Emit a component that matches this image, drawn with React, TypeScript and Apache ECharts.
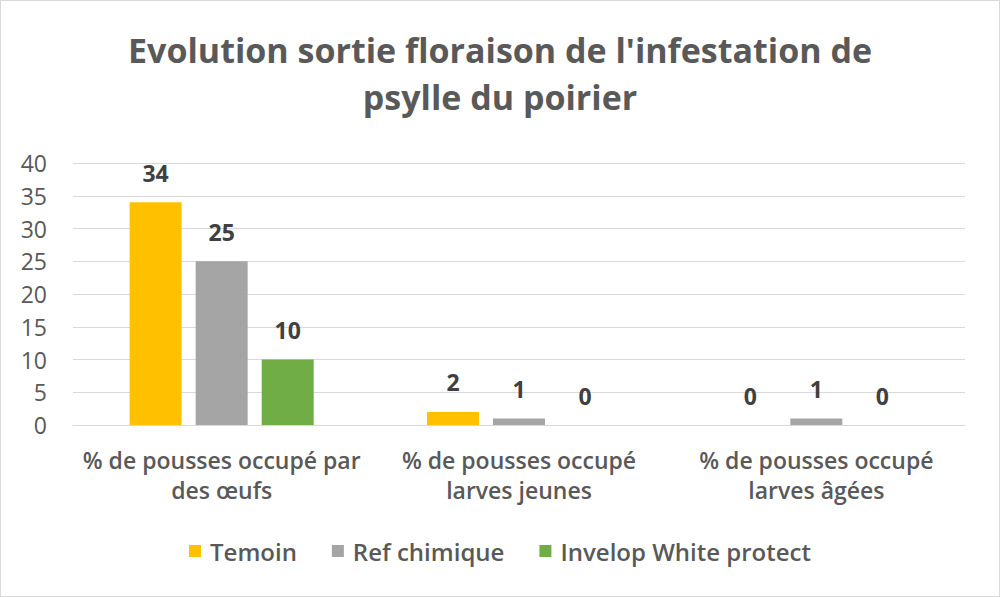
import React, { useEffect, useRef } from "react";
import * as echarts from "echarts";

const categories = [
  "% de pousses occupé par\ndes œufs",
  "% de pousses occupé\nlarves jeunes",
  "% de pousses occupé\nlarves âgées",
];
const seriesNames = ["Temoin", "Ref chimique", "Invelop White protect"];
const temoin = [34, 2, 0];
const refChimique = [25, 1, 1];
const invelop = [10, 0, 0];
const colors = ["#FFC000", "#A5A5A5", "#70AD47"];
const yTicks = { min: 0, max: 40, interval: 5 };

const FONT = "'Open Sans', 'Noto Sans', sans-serif";

export default function App() {
  const ref = useRef<HTMLDivElement>(null);
  useEffect(() => {
    if (!ref.current) return;
    const chart = echarts.init(ref.current, undefined, { renderer: "svg" });
    const values = [temoin, refChimique, invelop];
    chart.setOption({
      animation: false,
      backgroundColor: "#ffffff",
      textStyle: { fontFamily: FONT },
      title: {
        text: "Evolution sortie floraison de l'infestation de\npsylle du poirier",
        left: "center",
        top: 20,
        textStyle: {
          fontFamily: FONT,
          fontSize: 34,
          fontWeight: "bold",
          color: "#595959",
          lineHeight: 47,
        },
      },
      legend: {
        bottom: 28,
        left: "center",
        itemWidth: 12,
        itemHeight: 12,
        itemGap: 35,
        icon: "rect",
        textStyle: {
          fontFamily: FONT,
          fontSize: 24,
          fontWeight: 600,
          color: "#595959",
          padding: [0, 0, 0, 4],
        },
        data: seriesNames,
      },
      grid: { left: 72, right: 34, top: 162, bottom: 171, containLabel: false },
      xAxis: {
        type: "category",
        data: categories,
        axisLine: { show: true, lineStyle: { color: "#d9d9d9", width: 1 } },
        axisTick: { show: false },
        axisLabel: {
          fontFamily: FONT,
          fontSize: 23,
          fontWeight: 600,
          color: "#595959",
          lineHeight: 30,
          margin: 20,
          interval: 0,
        },
      },
      yAxis: {
        type: "value",
        min: yTicks.min,
        max: yTicks.max,
        interval: yTicks.interval,
        axisLine: { show: false },
        axisTick: { show: false },
        splitLine: { lineStyle: { color: "#d9d9d9", width: 1 } },
        axisLabel: {
          fontFamily: FONT,
          fontSize: 23,
          color: "#595959",
          margin: 26,
        },
      },
      series: seriesNames.map((name, i) => ({
        name,
        type: "bar",
        data: values[i],
        barWidth: 52,
        barGap: "27%",
        itemStyle: { color: colors[i] },
        label: {
          show: true,
          position: "top",
          distance: 18,
          fontFamily: FONT,
          fontSize: 23,
          fontWeight: "bold",
          color: "#404040",
        },
      })),
    });
    return () => chart.dispose();
  }, []);
  return (
    <div
      style={{
        position: "fixed",
        left: 0,
        top: 0,
        width: 1000,
        height: 597,
        boxSizing: "border-box",
        border: "1px solid #d9d9d9",
        background: "#fff",
      }}
    >
      <div ref={ref} style={{ width: 998, height: 595 }} />
    </div>
  );
}
